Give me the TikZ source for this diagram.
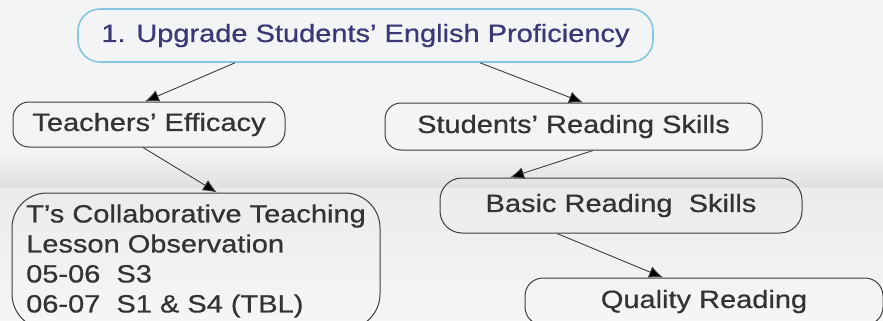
\documentclass[tikz,border=0pt]{standalone}
\usepackage{fontspec}
\setmainfont{Liberation Sans}[FakeStretch=1.16, FakeBold=0.6]
\usetikzlibrary{shapes.geometric, arrows.meta}
\definecolor{boxLine}{HTML}{3E3E3E}
\definecolor{skyLine}{HTML}{86C5E0}
\definecolor{titleInk}{HTML}{3C3878}
\definecolor{bodyInk}{HTML}{333333}
\tikzstyle{arrow} = [line width=0.9pt, draw=boxLine, -{Latex[length=14pt,width=12pt,fill=black]}]
\tikzstyle{roundRec} = [rectangle, rounded corners=16pt, minimum height=45pt, inner sep=0pt, text centered, draw=boxLine, line width=1pt, text=bodyInk, font=\fontsize{25}{30}\selectfont]
\tikzstyle{titleRec} = [roundRec, rounded corners=22pt, minimum height=53pt, draw=skyLine, line width=1.6pt, text=titleInk]

\begin{document}
\begin{tikzpicture}[x=1pt, y=-1pt]
		% background
		\useasboundingbox (0,0) rectangle (883,321);
		\fill[fill={rgb,255:red,243;green,244;blue,245}] (0,0) rectangle (883,321);
		\shade[top color={rgb,255:red,243;green,244;blue,245}, bottom color={rgb,255:red,222;green,225;blue,227}] (0,150) rectangle (883,188);
		\shade[top color={rgb,255:red,233;green,235;blue,237}, bottom color={rgb,255:red,245;green,246;blue,247}] (0,188) rectangle (883,321);

		\node (goal) [titleRec, minimum width=575pt] at (365.5,35.5) {1. Upgrade Students' English Proficiency};
		\node (efficacy) [roundRec, minimum width=272pt] at (149,124.5) {Teachers' Efficacy};
		\node (reading) [roundRec, minimum width=377pt, minimum height=47pt] at (573.5,126.5) {Students' Reading Skills};
		\node (collab) [roundRec, rounded corners=35pt, minimum width=368pt, minimum height=136pt, align=left] at (196,261) {T's Collaborative Teaching\\Lesson Observation\\05-06\ \ S3\\06-07\ \ S1 \& S4 (TBL)};
		\node (basic) [roundRec, rounded corners=22pt, minimum width=362pt, minimum height=55pt] at (621,205.5) {Basic Reading\ \ Skills};
		\node (quality) [roundRec, rounded corners=18pt, minimum width=358pt, minimum height=47pt] at (704,301.5) {Quality Reading};

		\draw [arrow] ([xshift=-130.5pt]goal.south) -- ([xshift=-4pt]efficacy.north);
		\draw [arrow] ([xshift=114.5pt]goal.south) -- ([xshift=9.5pt]reading.north);
		\draw [arrow] ([xshift=-6pt]efficacy.south) -- ([xshift=21pt]collab.north);
		\draw [arrow] ([xshift=19.5pt]reading.south) -- ([xshift=-111pt]basic.north);
		\draw [arrow] ([xshift=-64pt]basic.south) -- ([xshift=-41pt]quality.north);
	\end{tikzpicture}
\end{document}
